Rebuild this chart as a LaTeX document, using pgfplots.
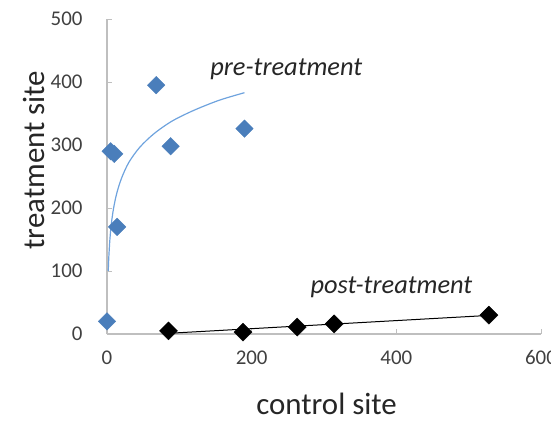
\documentclass[border=0pt]{standalone}
\usepackage{pgfplots}
\pgfplotsset{compat=1.18}
\usepackage{fontspec}
\setmainfont{Carlito}
\definecolor{preblue}{HTML}{4A7EBB}
\definecolor{trendblue}{HTML}{6FA3DE}
\definecolor{axgray}{HTML}{BFBFBF}
\definecolor{ticktext}{HTML}{404040}
\definecolor{labtext}{HTML}{262626}
\begin{document}
\begin{tikzpicture}
\path[use as bounding box] (-107bp,-89bp) rectangle (444bp,334bp);
\clip (-107bp,-89bp) rectangle (444bp,334bp);
\begin{axis}[
  at={(0,0)}, anchor=south west,
  scale only axis, width=434bp, height=315bp,
  xmin=0, xmax=600, ymin=0, ymax=500,
  xtick={0,200,400,600}, ytick={0,100,...,500},
  axis x line*=bottom, axis y line*=left,
  axis line style={axgray, line width=1.2bp, -},
  tick style={axgray, line width=1bp},
  major tick length=5bp,
  tick align=inside,
  /pgf/number format/assume math mode=true,
  ticklabel style={font=\fontsize{21}{24}\selectfont, text=ticktext},
  xticklabel style={yshift=-13bp},
  yticklabel style={xshift=-21bp},
  xlabel={control site}, ylabel={treatment site},
  label style={font=\fontsize{31}{36}\selectfont, text=labtext},
  xlabel style={at={(axis description cs:0.506,-0.257)}, anchor=base},
  ylabel style={at={(axis description cs:-0.168,0.552)}, anchor=center, rotate=0},
  clip=false,
]
% logarithmic trendline (pre-treatment)
\addplot[trendblue, line width=1.2bp, smooth, no marks] coordinates {
 (1.75,100) (2.5,122) (4,150) (6,175) (9,199) (13.4,223) (20,247) (30,272)
 (45,296) (65,318) (90,338) (120,355) (155,371) (190,383)};
% pre-treatment points
\addplot[only marks, mark=square*, mark size=6.2bp, mark options={rotate=45, fill=preblue, draw=preblue}] coordinates {
 (0,20) (5,290) (10,286) (14,170) (68,395) (88,298) (190,326)};
% linear trendline (post-treatment)
\addplot[black, line width=1bp, no marks] coordinates {(85,1.1) (528,29.5)};
% post-treatment points
\addplot[only marks, mark=square*, mark size=6.4bp, mark options={rotate=45, fill=black, draw=black}] coordinates {
 (85,5) (188,3) (263,11) (314,16) (528,30)};
\node[anchor=base west, font=\fontsize{26.5}{30}\selectfont\itshape, text=labtext] at (axis cs:138,411) {pre-treatment};
\node[anchor=base west, font=\fontsize{26.5}{30}\selectfont\itshape, text=labtext] at (axis cs:276.5,65) {post-treatment};
\end{axis}
\end{tikzpicture}
\end{document}
